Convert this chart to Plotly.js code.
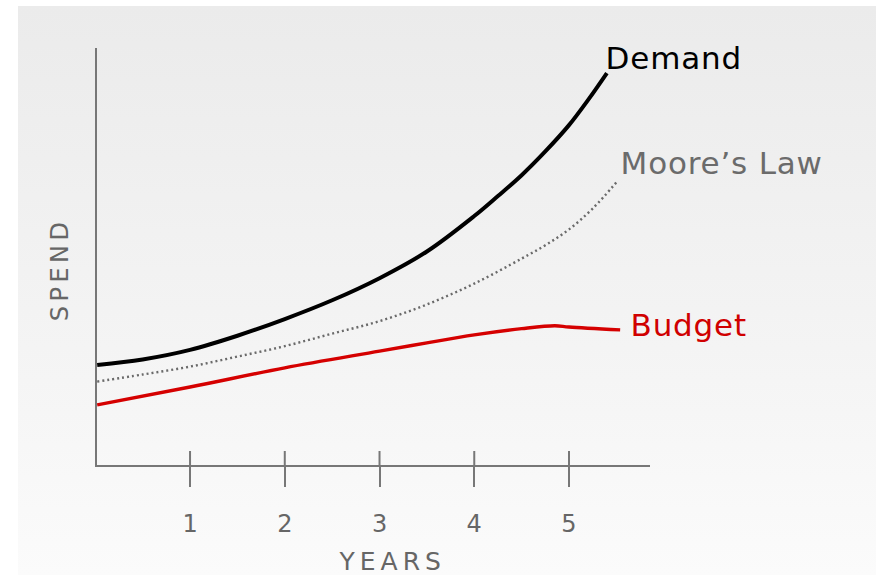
<!DOCTYPE html>
<html>
<head>
<meta charset="utf-8">
<script src="https://cdn.plot.ly/plotly-3.0.1.min.js"></script>
<style>
  html, body { margin: 0; padding: 0; background: #ffffff; }
  #wrap { position: relative; width: 876px; height: 575px; overflow: hidden; }
  #bg { position: absolute; left: 18px; top: 6px; right: 0; bottom: 0;
        background: linear-gradient(to bottom, #ebebeb 0%, #f4f4f4 60%, #fbfbfb 100%); }
  #chart { position: absolute; left: 0; top: 0; width: 876px; height: 575px; }
  .annotation[data-index="0"] text, .annotation[data-index="1"] text, .annotation[data-index="2"] text { letter-spacing: 0.8px; }
  .annotation[data-index="3"] text { letter-spacing: 5px; }
  .annotation[data-index="4"] text { letter-spacing: 4.5px; }
</style>
</head>
<body>
<div id="wrap"><div id="bg"></div><div id="chart"></div></div>
<script>
// Years on the x axis
const demandX = [0.02, 0.5, 1, 1.5, 2, 2.5, 3, 3.5, 4, 4.25, 4.5, 4.75, 5, 5.2, 5.4];
const demandY = [2.40, 2.53, 2.76, 3.10, 3.50, 3.95, 4.48, 5.12, 5.97, 6.45, 6.95, 7.52, 8.15, 8.75, 9.40];

const mooreX = [0.02, 0.5, 1, 1.5, 2, 2.5, 3, 3.5, 4, 4.5, 4.75, 5, 5.25, 5.52];
const mooreY = [2.00, 2.17, 2.36, 2.60, 2.85, 3.15, 3.45, 3.85, 4.35, 4.95, 5.27, 5.65, 6.15, 6.83];

const budgetX = [0.02, 1, 2, 3, 3.5, 4, 4.5, 4.85, 5, 5.54];
const budgetY = [1.44, 1.87, 2.33, 2.73, 2.93, 3.12, 3.27, 3.34, 3.31, 3.24];

const tickVals = [1, 2, 3, 4, 5];
const tickText = ['1', '2', '3', '4', '5'];

const seriesNames = ['Demand', "Moore\u2019s Law", 'Budget'];
const axisTitles = { x: 'YEARS', y: 'SPEND' };

const FONT = 'DejaVu Sans, sans-serif';
const AXIS = '#777777';

const traces = [
  { x: mooreX, y: mooreY, mode: 'lines', line: { color: '#6a6a6a', width: 2.4, dash: '2px,3px', shape: 'spline' }, hoverinfo: 'skip' },
  { x: budgetX, y: budgetY, mode: 'lines', line: { color: '#d50000', width: 3.4, shape: 'spline' }, hoverinfo: 'skip' },
  { x: demandX, y: demandY, mode: 'lines', line: { color: '#000000', width: 4, shape: 'spline' }, hoverinfo: 'skip' }
];

// upper half of the crossing tick marks
const tickShapes = tickVals.map(v => ({
  type: 'line', xref: 'x', yref: 'paper', x0: v, x1: v, y0: 0, y1: 14 / 417,
  line: { color: AXIS, width: 2 }
}));

const layout = {
  width: 876, height: 575,
  margin: { l: 97, r: 226, t: 48, b: 110 },
  paper_bgcolor: 'rgba(0,0,0,0)',
  plot_bgcolor: 'rgba(0,0,0,0)',
  showlegend: false,
  font: { family: FONT, color: '#666666' },
  xaxis: {
    range: [0.018, 5.855], showgrid: false, zeroline: false,
    showline: true, linecolor: AXIS, linewidth: 2,
    tickmode: 'array', tickvals: tickVals, ticktext: tickText,
    ticks: 'outside', ticklen: 20, tickwidth: 2, tickcolor: AXIS,
    ticklabelstandoff: 16,
    tickfont: { family: FONT, size: 24, color: '#666666' },
    fixedrange: true
  },
  yaxis: {
    range: [0, 10], showgrid: false, zeroline: false,
    showline: true, linecolor: AXIS, linewidth: 2,
    showticklabels: false, ticks: '', fixedrange: true
  },
  shapes: tickShapes,
  annotations: [
    { text: seriesNames[0], xref: 'paper', yref: 'paper', x: (606 - 97) / 553, y: (465 - 58) / 417,
      xanchor: 'left', yanchor: 'middle', showarrow: false, font: { family: FONT, size: 31, color: '#000000' } },
    { text: seriesNames[1], xref: 'paper', yref: 'paper', x: (623 - 97) / 553, y: (465 - 163) / 417,
      xanchor: 'left', yanchor: 'middle', showarrow: false, font: { family: FONT, size: 31, color: '#6b6b6b' } },
    { text: seriesNames[2], xref: 'paper', yref: 'paper', x: (631 - 97) / 553, y: (465 - 325) / 417,
      xanchor: 'left', yanchor: 'middle', showarrow: false, font: { family: FONT, size: 31, color: '#d00000' } },
    { text: axisTitles.x, xref: 'paper', yref: 'paper', x: (392 - 97) / 553, y: 0, yshift: -96,
      xanchor: 'center', yanchor: 'middle', showarrow: false, font: { family: FONT, size: 25, color: '#666666' } },
    { text: axisTitles.y, xref: 'paper', yref: 'paper', x: 0, xshift: -37, y: (465 - 270) / 417,
      xanchor: 'center', yanchor: 'middle', textangle: -90, showarrow: false, font: { family: FONT, size: 24, color: '#666666' } }
  ]
};

Plotly.newPlot('chart', traces, layout, { displayModeBar: false, staticPlot: true });
</script>
</body>
</html>
